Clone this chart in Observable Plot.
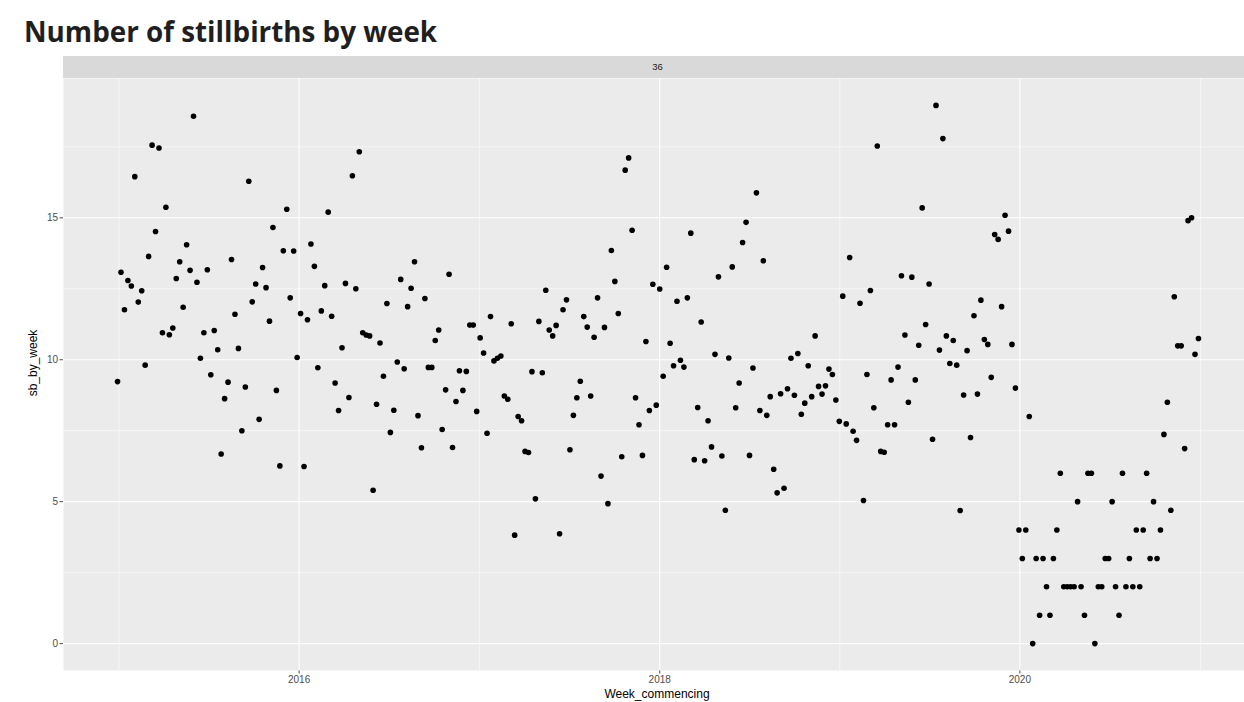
<!DOCTYPE html>
<html>
<head>
<meta charset="utf-8">
<script src="https://cdn.jsdelivr.net/npm/d3@7"></script>
<script src="https://cdn.jsdelivr.net/npm/@observablehq/plot@0.6"></script>
<style>
  body { margin: 0; background: #fff; }
  #fig { position: relative; width: 1244px; height: 702px; overflow: hidden; background: #fff;
         font-family: "Liberation Sans", Arial, sans-serif; }
  #title { position: absolute; left: 24px; top: 12px; margin: 0; font: 700 27.8px "Open Sans", sans-serif; color: #1f1f1f; }
  #strip { position: absolute; left: 63px; top: 56px; width: 1189px; height: 22px; background: #d9d9d9;
           color: #1a1a1a; font-size: 9.5px; line-height: 22px; text-align: center; }
  #chart { position: absolute; left: 0; top: 56px; width: 1252px; }
  #chart svg { max-width: none !important; }
  .ytitle { position: absolute; left: 33px; top: 363px; transform: translate(-50%, -50%) rotate(-90deg);
            font-size: 12px; color: #000; white-space: nowrap; }
  .xtitle { position: absolute; left: 657px; top: 694px; transform: translate(-50%, -50%);
            font-size: 12px; color: #000; white-space: nowrap; }
</style>
</head>
<body>
<div id="fig">
  <h1 id="title">Number of stillbirths by week</h1>
  <div id="strip">36</div>
  <div id="chart"></div>
  <div class="ytitle">sb_by_week</div>
  <div class="xtitle">Week_commencing</div>
</div>
<script>
// Weekly stillbirth counts, one value per week commencing (Mondays), from the first week below.
const firstWeek = "2014-12-29";
const sb_by_week = [
  // 2015
  9.23, 13.08, 11.76, 12.79, 12.6, 16.45, 12.03, 12.43, 9.81, 13.64, 17.56, 14.52, 17.46, 10.95, 15.37, 10.88,
  11.12, 12.86, 13.45, 11.85, 14.05, 13.15, 18.58, 12.73, 10.05,
  10.95, 13.17, 9.47, 11.03, 10.35, 6.68, 8.63, 9.21, 13.53, 11.6, 10.4, 7.5, 9.04, 16.29, 12.04, 12.67, 7.9,
  13.25, 12.54, 11.36, 14.66, 8.92, 6.26, 13.84, 15.3, 12.18, 13.83,
  // 2016
  10.08, 11.63, 6.24, 11.41, 14.08, 13.29, 9.72, 11.72, 12.61, 15.2, 11.53, 9.18, 8.21, 10.42, 12.69, 8.67,
  16.48, 12.5, 17.33, 10.95, 10.87, 10.84, 5.4, 8.43, 10.59, 9.42, 11.98, 7.44,
  8.22, 9.92, 12.83, 9.68, 11.87, 12.52, 13.45, 8.03, 6.9, 12.16, 9.73, 9.73, 10.68, 11.05, 7.54, 8.94, 13.01,
  6.91, 8.53, 9.61, 8.92, 9.59, 11.22, 11.22, 8.18, 10.77, 10.24,
  // 2017
  7.41, 11.52, 9.96, 10.05, 10.13, 8.72, 8.61, 11.27, 3.82, 8.0, 7.85, 6.77, 6.73, 9.58, 5.1, 11.35, 9.54,
  12.45, 11.05, 10.84, 11.21, 3.87, 11.76, 12.11, 6.83, 8.04, 8.66, 9.24,
  11.52, 11.15, 8.72, 10.79, 12.18, 5.9, 11.14, 4.93, 13.85, 12.76, 11.63, 6.58, 16.68, 17.11, 14.56, 8.66,
  7.71, 6.63, 10.64, 8.21, 12.66, 8.4, 12.49, 9.42, 13.26, 10.58, 9.79,
  // 2018
  12.06, 9.98, 9.74, 12.18, 14.46, 6.48, 8.32, 11.33, 6.44, 7.85, 6.93, 10.19, 12.92, 6.61, 4.7, 10.06, 13.27,
  8.31, 9.18, 14.13, 14.84, 6.63, 9.71, 15.88, 8.21, 13.49, 8.04,
  8.7, 6.14, 5.31, 8.8, 5.47, 8.98, 10.05, 8.75, 10.22, 8.08, 8.47, 9.79, 8.7, 10.84, 9.06, 8.79, 9.08, 9.67,
  9.48, 8.58, 7.83, 12.24, 7.74, 13.6, 7.48, 7.16, 11.99, 5.04,
  // 2019
  9.48, 12.44, 8.31, 17.53, 6.77, 6.74, 7.71, 9.29, 7.71, 9.74, 12.96, 10.87, 8.5, 12.91, 9.29, 10.51, 15.35,
  11.24, 12.67, 7.2, 18.96, 10.34, 17.79, 10.84, 9.87, 10.68, 9.81,
  4.69, 8.76, 10.32, 7.26, 11.55, 8.79, 12.1, 10.71, 10.54, 9.38, 14.41, 14.24, 11.87, 15.09, 14.53, 10.54, 9.0,
  // 2020
  4, 3, 4, 8, 0, 3, 1, 3, 2, 1, 3,
  4, 6, 2, 2, 2, 2, 5, 2, 1, 6, 6, 0, 2, 2, 3, 3, 5, 2, 1, 6, 2, 3, 2, 4, 2, 4, 6, 3,
  5, 3, 4, 7.37, 8.5, 4.7, 12.22, 10.49, 10.49, 6.87, 14.9, 15.0, 10.19, 10.75
];

// Axis breaks
const yMajor = [0, 5, 10, 15];
const yMinor = [2.5, 7.5, 12.5, 17.5];
const xMajorYears = ["2016-01-01", "2018-01-01", "2020-01-01"];
const xMinorYears = ["2015-01-01", "2017-01-01", "2019-01-01", "2021-01-01"];

const start = new Date(firstWeek);
const weeks = d3.utcMonday.range(start, d3.utcMonday.offset(start, sb_by_week.length));
const data = sb_by_week.map((v, i) => ({Week_commencing: weeks[i], sb_by_week: v}));

const xMajor = xMajorYears.map(d => new Date(d));
const xMinor = xMinorYears.map(d => new Date(d));

// ggplot-style 5% expansion of the data range
const [x0, x1] = d3.extent(weeks, d => +d);
const xPad = (x1 - x0) * 0.05;
const [y0, y1] = d3.extent(sb_by_week);
const yPad = (y1 - y0) * 0.05;

// The panel runs slightly past the right edge of the figure, which clips it.
const chart = Plot.plot({
  width: 1252,
  height: 646,
  marginTop: 22,
  marginBottom: 32,
  marginLeft: 63,
  marginRight: 0,
  style: {background: "transparent", color: "#4d4d4d", fontSize: "10px", maxWidth: "none",
          fontFamily: "'Liberation Sans', Arial, sans-serif"},
  x: {type: "utc", domain: [new Date(x0 - xPad), new Date(x1 + xPad)], ticks: xMajor, tickFormat: "%Y",
      tickSize: 3.5, tickPadding: 2, label: null},
  y: {domain: [y0 - yPad, y1 + yPad], ticks: yMajor, tickSize: 3.5, tickPadding: 2, label: null},
  marks: [
    Plot.frame({fill: "#ebebeb", stroke: null}),
    Plot.ruleY(yMinor, {stroke: "#fff", strokeWidth: 0.55}),
    Plot.ruleX(xMinor, {stroke: "#fff", strokeWidth: 0.55}),
    Plot.ruleY(yMajor, {stroke: "#fff", strokeWidth: 1.1}),
    Plot.ruleX(xMajor, {stroke: "#fff", strokeWidth: 1.1}),
    Plot.dot(data, {x: "Week_commencing", y: "sb_by_week", r: 2.8, fill: "#000", stroke: null})
  ]
});
document.getElementById("chart").appendChild(chart);
</script>
</body>
</html>
